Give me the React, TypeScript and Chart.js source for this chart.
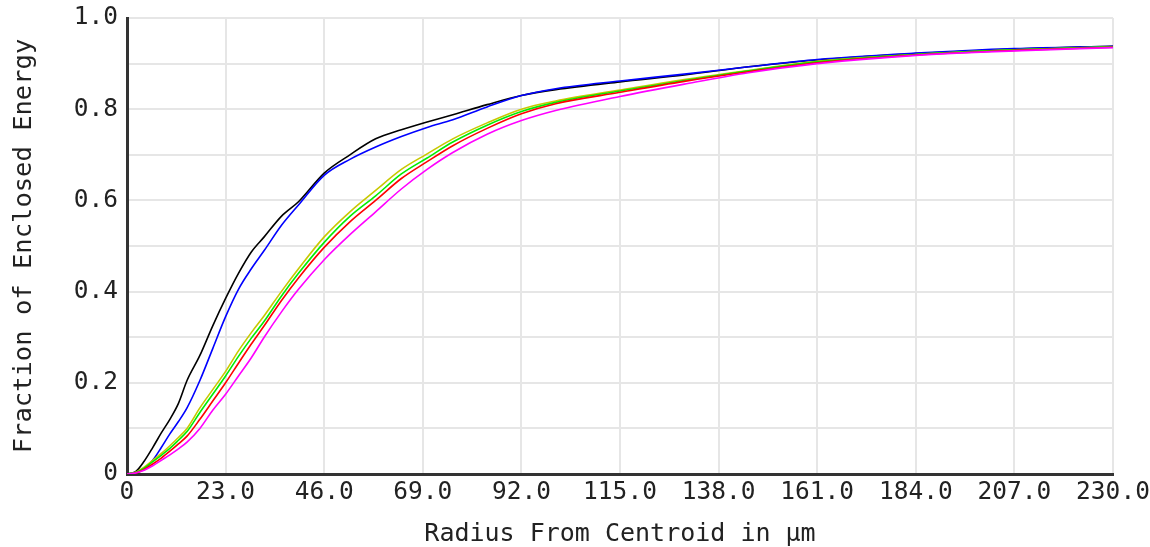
import React, { useEffect, useRef } from "react";
import { Chart, registerables } from "chart.js";

Chart.register(...registerables);

const radius = [0, 2, 4, 6, 8, 10, 12, 14, 17, 20, 23, 26, 29, 32, 36, 40, 46, 52, 58, 64, 70, 76, 84, 92, 100, 115, 130, 145, 161, 184, 207, 230];

const blackSeries = [0, 0.005, 0.028, 0.058, 0.09, 0.12, 0.155, 0.205, 0.26, 0.325, 0.385, 0.44, 0.487, 0.52, 0.565, 0.597, 0.66, 0.7, 0.735, 0.755, 0.772, 0.788, 0.81, 0.83, 0.843, 0.86, 0.875, 0.893, 0.908, 0.922, 0.932, 0.938];
const blueSeries = [0, 0.003, 0.012, 0.03, 0.058, 0.088, 0.115, 0.145, 0.205, 0.275, 0.345, 0.405, 0.45, 0.49, 0.545, 0.59, 0.655, 0.69, 0.717, 0.74, 0.76, 0.777, 0.805, 0.83, 0.845, 0.862, 0.877, 0.893, 0.909, 0.923, 0.933, 0.938];
const yellowSeries = [0, 0.004, 0.015, 0.03, 0.045, 0.062, 0.08, 0.1, 0.145, 0.185, 0.225, 0.27, 0.31, 0.347, 0.4, 0.45, 0.52, 0.575, 0.622, 0.668, 0.702, 0.735, 0.77, 0.8, 0.818, 0.842, 0.865, 0.885, 0.905, 0.92, 0.93, 0.937];
const greenSeries = [0, 0.003, 0.013, 0.027, 0.041, 0.056, 0.074, 0.093, 0.135, 0.175, 0.215, 0.258, 0.298, 0.335, 0.39, 0.44, 0.508, 0.565, 0.61, 0.658, 0.693, 0.728, 0.765, 0.795, 0.815, 0.84, 0.863, 0.884, 0.904, 0.92, 0.93, 0.937];
const redSeries = [0, 0.002, 0.01, 0.022, 0.035, 0.05, 0.066, 0.083, 0.12, 0.16, 0.2, 0.243, 0.285, 0.325, 0.38, 0.43, 0.497, 0.553, 0.6, 0.648, 0.685, 0.72, 0.758, 0.79, 0.812, 0.837, 0.861, 0.882, 0.902, 0.919, 0.929, 0.936];
const magentaSeries = [0, 0.002, 0.008, 0.018, 0.03, 0.042, 0.055, 0.07, 0.1, 0.14, 0.175, 0.215, 0.255, 0.3, 0.355, 0.405, 0.47, 0.525, 0.575, 0.625, 0.668, 0.705, 0.745, 0.775, 0.797, 0.828, 0.855, 0.88, 0.9, 0.918, 0.928, 0.935];

const seriesColors = ["#ff00ff", "#ff0000", "#00ee00", "#c8c800", "#0000ff", "#000000"];

const xTickValues = [0, 23, 46, 69, 92, 115, 138, 161, 184, 207, 230];
const xTickLabels = ["0", "23.0", "46.0", "69.0", "92.0", "115.0", "138.0", "161.0", "184.0", "207.0", "230.0"];
const yTickValues = [0, 0.1, 0.2, 0.3, 0.4, 0.5, 0.6, 0.7, 0.8, 0.9, 1.0];
const yTickLabels = ["0", "", "0.2", "", "0.4", "", "0.6", "", "0.8", "", "1.0"];

const xTitle = "Radius From Centroid in µm";
const yTitle = "Fraction of Enclosed Energy";

const FONT = "'DejaVu Sans Mono', monospace";

function toPoints(ys: number[]) {
  return radius.map((x, i) => ({ x, y: ys[i] }));
}

export default function App() {
  const canvasRef = useRef<HTMLCanvasElement | null>(null);

  useEffect(() => {
    if (!canvasRef.current) return;
    const allSeries = [magentaSeries, redSeries, greenSeries, yellowSeries, blueSeries, blackSeries];
    const chart = new Chart(canvasRef.current, {
      type: "line",
      data: {
        datasets: allSeries.map((s, i) => ({
          data: toPoints(s),
          borderColor: seriesColors[i],
          backgroundColor: seriesColors[i],
          borderWidth: 1.6,
          pointRadius: 0,
          cubicInterpolationMode: "monotone" as const,
          fill: false,
        })),
      },
      options: {
        animation: false,
        responsive: true,
        maintainAspectRatio: false,
        layout: { padding: { top: 18, right: 37, left: 0, bottom: 0 } },
        plugins: { legend: { display: false }, tooltip: { enabled: false } },
        scales: {
          x: {
            type: "linear",
            min: 0,
            max: 230,
            afterBuildTicks: (scale: any) => {
              scale.ticks = xTickValues.map((v) => ({ value: v }));
            },
            afterFit: (scale: any) => {
              scale.height = 73;
              scale.paddingLeft = 0;
              scale.paddingRight = 0;
            },
            ticks: {
              autoSkip: false,
              maxRotation: 0,
              padding: 4,
              color: "#222",
              font: { family: FONT, size: 24.5 },
              callback: (v: any) => {
                const i = xTickValues.indexOf(Number(v));
                return i >= 0 ? xTickLabels[i] : "";
              },
            },
            grid: { color: "#e6e6e6", lineWidth: 2, drawTicks: false },
            border: { color: "#333", width: 3 },
            title: {
              display: true,
              text: xTitle,
              color: "#222",
              font: { family: FONT, size: 25 },
              padding: { top: 0, bottom: -2 },
            },
          },
          y: {
            type: "linear",
            min: 0,
            max: 1,
            afterBuildTicks: (scale: any) => {
              scale.ticks = yTickValues.map((v) => ({ value: v }));
            },
            afterFit: (scale: any) => {
              scale.width = 127;
              scale.paddingTop = 0;
              scale.paddingBottom = 0;
            },
            ticks: {
              autoSkip: false,
              padding: 9,
              color: "#222",
              font: { family: FONT, size: 24.5 },
              callback: (v: any, idx: number) => yTickLabels[idx] ?? "",
            },
            grid: { color: "#e6e6e6", lineWidth: 2, drawTicks: false },
            border: { color: "#333", width: 3 },
            title: {
              display: true,
              text: yTitle,
              color: "#222",
              font: { family: FONT, size: 25.5 },
              padding: { top: 9, bottom: 0 },
            },
          },
        },
      },
    });
    return () => chart.destroy();
  }, []);

  return (
    <div style={{ position: "fixed", left: 0, top: 0, width: 1150, height: 547, background: "#fff" }}>
      <canvas ref={canvasRef} />
    </div>
  );
}
